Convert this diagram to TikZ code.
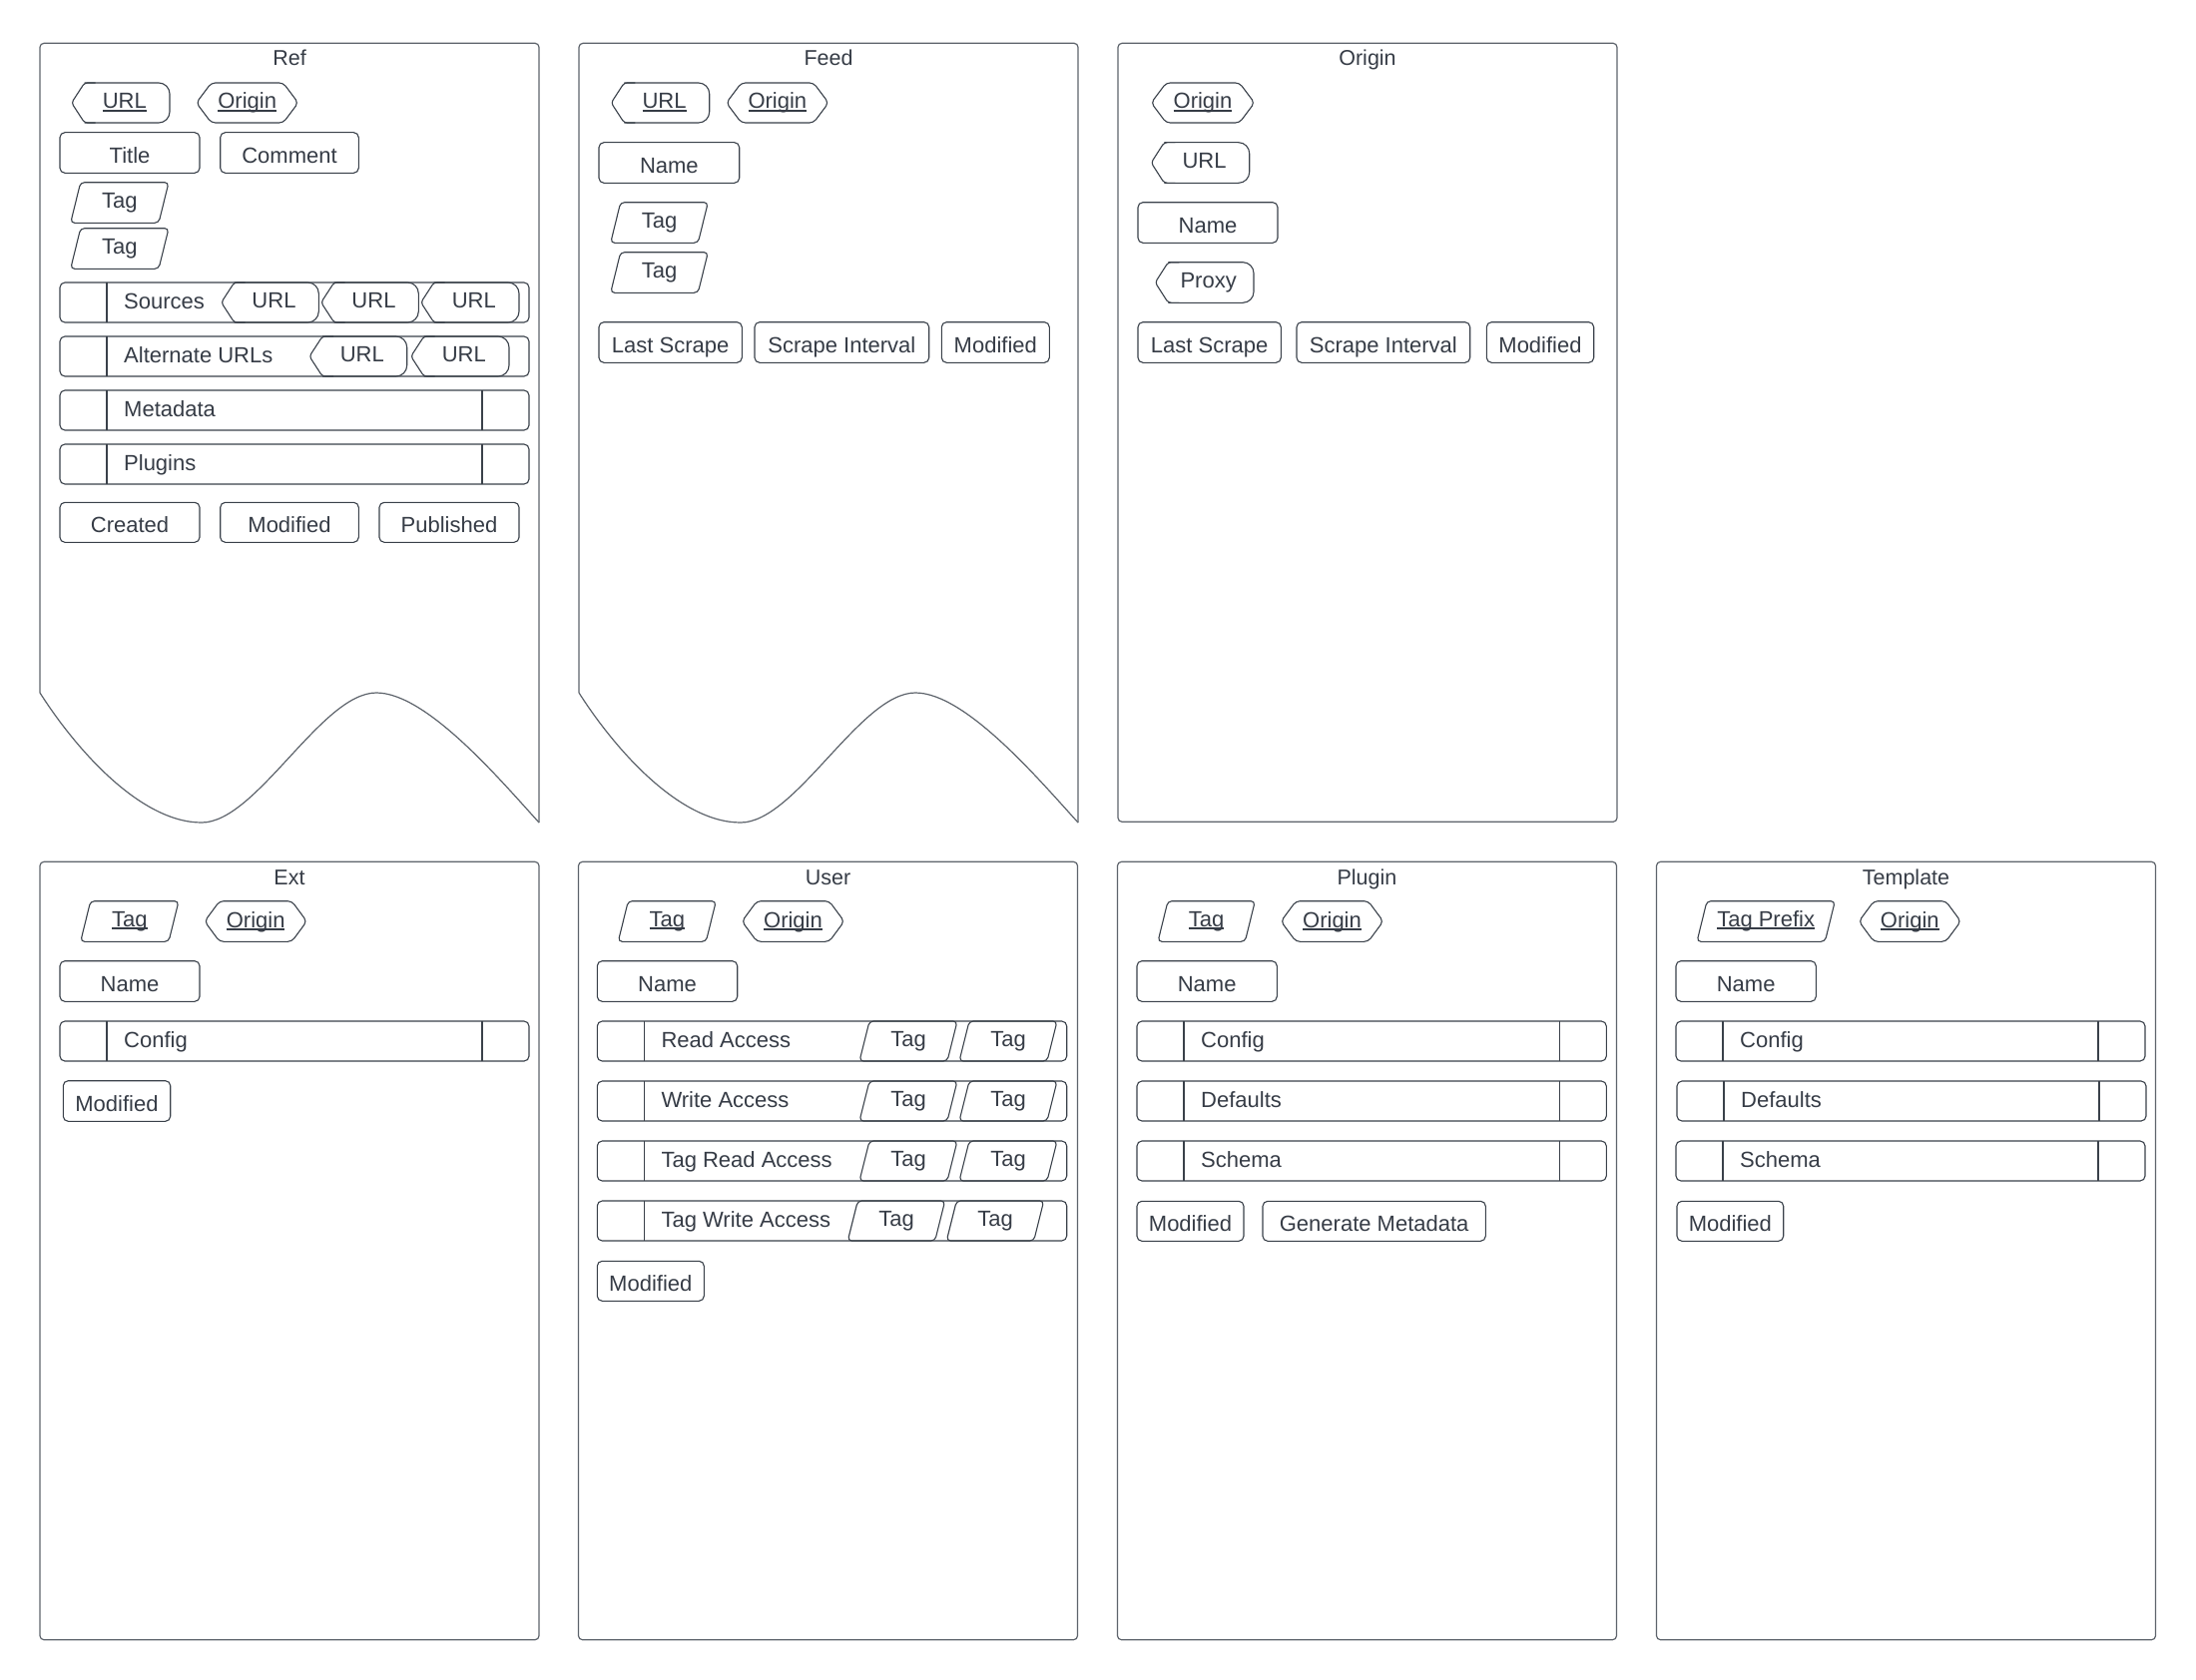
\documentclass[tikz,border=0pt]{standalone}
\usepackage{fontspec}
\setmainfont{Liberation Sans}
\definecolor{lc}{HTML}{3A414A}
\definecolor{pc}{HTML}{5E646C}
\definecolor{tc}{HTML}{363C46}
\newcommand\myfs{\fontsize{22}{26}\selectfont}
\newcommand\myft{\fontsize{21.5}{26}\selectfont}
\newcommand\ulx[1]{\setbox0=\hbox{#1}\rlap{\rule[-2.8pt]{\wd0}{1.6pt}}\box0}
\tikzset{
  shp/.style={draw=lc, line width=1.1pt},
  pnlst/.style={draw=pc, line width=1.2pt},
  txt/.style={inner sep=0pt, anchor=base, text=tc, font=\myfs},
  ttl/.style={txt, font=\myft},
}
% rounded field: name, x1, x2, y1, y2, text
\newcommand\fld[6]{%
  \draw[shp,rounded corners=5] (#2,#4) rectangle (#3,#5);
  \node[txt] (#1) at ({(#2+#3)/2},{(#4+#5)/2+10}) {#6};}
% key shape (left point, rounded right): name, x1, x2, y1, y2, text, dy
\newcommand\keyx[7]{%
  \draw[shp,rounded corners=11] (#2+13,#4) -- (#3,#4) -- (#3,#5) -- (#2+13,#5);
  \draw[shp,rounded corners=3] (#2+24,#4) -- (#2+13,#4) -- (#2,{(#4+#5)/2}) -- (#2+13,#5) -- (#2+24,#5);
  \node[txt] (#1) at ({(#2+#3)/2+4},{(#4+#5)/2+#7}) {#6};}
% hexagon: name, x1, x2, y1, y2, text
\newcommand\hexx[6]{%
  \draw[shp,rounded corners=4] ({(#2+#3)/2},#4) -- (#3-15,#4) -- (#3,{(#4+#5)/2}) -- (#3-15,#5) -- (#2+15,#5) -- (#2,{(#4+#5)/2}) -- (#2+15,#4) -- cycle;
  \node[txt] (#1) at ({(#2+#3)/2},{(#4+#5)/2+6}) {#6};}
% parallelogram: name, x1 (bottom left), x2 (top right), y1, y2, text
\newcommand\tagx[6]{%
  \draw[shp,rounded corners=4] ({(#2+#3)/2},#4) -- (#3,#4) -- (#3-10,#5) -- (#2,#5) -- (#2+10,#4) -- cycle;
  \node[txt] (#1) at ({(#2+#3)/2},{(#4+#5)/2+5}) {#6};}
% row with left divider: name, x1, x2, y1, y2, text
\newcommand\rowx[6]{%
  \draw[shp,rounded corners=5] (#2,#4) rectangle (#3,#5);
  \draw[shp] (#2+47,#4) -- (#2+47,#5);
  \node[txt,anchor=base west] (#1) at (#2+64,{(#4+#5)/2+6}) {#6};}
% right divider: x2, y1, y2
\newcommand\rdiv[3]{\draw[shp] (#1-47,#2) -- (#1-47,#3);}
% plain panel: name, x1, x2, y1, y2, title
\newcommand\pnl[6]{%
  \draw[pnlst,rounded corners=4] (#2,#4) rectangle (#3,#5);
  \node[ttl] (#1) at ({(#2+#3)/2},#4+22.7) {#6};}
% document panel with wavy bottom: x1, title, name
\newcommand\docpnl[3]{%
  \draw[pnlst,rounded corners=4] (#1,694) -- (#1,43.3) -- (#1+500,43.3) -- (#1+500,824);
  \draw[pnlst] (#1,694) .. controls (#1+35,749) and (#1+100,824) .. (#1+162,824)
     .. controls (#1+217,824) and (#1+282,694) .. (#1+337,694)
     .. controls (#1+387,694) and (#1+460,780) .. (#1+500,824);
  \node[ttl] (#3) at (#1+250,66) {#2};}
\begin{document}
\begin{tikzpicture}[x=1pt,y=-1pt]
\fill[white] (0,0) rectangle (2200,1683);
\useasboundingbox (0,0) rectangle (2200,1683);

% ---------------- Ref ----------------
\docpnl{40}{Ref}{refT}
\keyx{refUrl}{71.7}{170}{83}{123}{\ulx{URL}}{6}
\hexx{refOrig}{196.7}{298.7}{83}{123}{\ulx{Origin}}
\fld{refTitle}{60}{200}{132.7}{173.3}{Title}
\fld{refComment}{220.7}{359.3}{132.7}{173.3}{Comment}
\tagx{refTag1}{70.7}{169}{182.7}{223.3}{Tag}
\tagx{refTag2}{70.7}{169}{228.7}{269.3}{Tag}
\rowx{refSrc}{60}{530}{283}{323}{Sources}
\keyx{refSrcU1}{221.7}{319.3}{283}{323}{URL}{5}
\keyx{refSrcU2}{321.7}{419.3}{283}{323}{URL}{5}
\keyx{refSrcU3}{421.7}{520}{283}{323}{URL}{5}
\rowx{refAlt}{60}{530}{337}{377}{Alternate URLs}
\keyx{refAltU1}{310}{407.7}{337}{377}{URL}{5}
\keyx{refAltU2}{411.7}{510}{337}{377}{URL}{5}
\rowx{refMeta}{60}{530}{391}{431}{Metadata}
\rdiv{530}{391}{431}
\rowx{refPlug}{60}{530}{445}{485}{Plugins}
\rdiv{530}{445}{485}
\fld{refCreated}{60}{200}{503.3}{543.3}{Created}
\fld{refMod}{220.7}{359.3}{503.3}{543.3}{Modified}
\fld{refPub}{380}{520}{503.3}{543.3}{Published}

% ---------------- Feed ----------------
\docpnl{580}{Feed}{feedT}
\keyx{feedUrl}{612.3}{710.7}{83}{123}{\ulx{URL}}{6}
\hexx{feedOrig}{727.7}{830}{83}{123}{\ulx{Origin}}
\fld{feedName}{600}{740.7}{142.7}{183.3}{Name}
\tagx{feedTag1}{611.7}{709.3}{202.7}{243.3}{Tag}
\tagx{feedTag2}{611.7}{709.3}{252.7}{293.3}{Tag}
\fld{feedLast}{600}{743.3}{322.7}{363.3}{Last Scrape}
\fld{feedInt}{756}{930.7}{322.7}{363.3}{Scrape Interval}
\fld{feedMod}{943.3}{1051.3}{322.7}{363.3}{Modified}

% ---------------- Origin ----------------
\pnl{origT}{1120}{1620}{43.3}{823.3}{Origin}
\hexx{origOrig}{1153.3}{1256.7}{83}{123}{\ulx{Origin}}
\keyx{origUrl}{1153.3}{1251.7}{142.7}{183.3}{URL}{5}
\fld{origName}{1140}{1280}{202.7}{243.3}{Name}
\keyx{origProxy}{1157.3}{1256}{262.7}{303.3}{Proxy}{5}
\fld{origLast}{1140}{1283.3}{322.7}{363.3}{Last Scrape}
\fld{origInt}{1299}{1472.7}{322.7}{363.3}{Scrape Interval}
\fld{origMod}{1489.3}{1596.7}{322.7}{363.3}{Modified}

% ---------------- Ext ----------------
\pnl{extT}{40}{540}{863.3}{1642.7}{Ext}
\tagx{extTag}{80.7}{179}{902.7}{943.3}{\ulx{Tag}}
\hexx{extOrig}{205}{307.3}{902.7}{943.3}{\ulx{Origin}}
\fld{extName}{60}{200}{962.7}{1003.3}{Name}
\rowx{extConf}{60}{530}{1023}{1063}{Config}
\rdiv{530}{1023}{1063}
\fld{extMod}{63.3}{170.7}{1082.7}{1123.3}{Modified}

% ---------------- User ----------------
\pnl{userT}{579.5}{1079.5}{863.3}{1642.7}{User}
\tagx{userTag}{619.3}{717.3}{902.7}{943.3}{\ulx{Tag}}
\hexx{userOrig}{743.3}{845.7}{902.7}{943.3}{\ulx{Origin}}
\fld{userName}{598.3}{738.7}{962.7}{1003.3}{Name}
\rowx{userRA}{598.3}{1068.7}{1023}{1063}{Read Access}
\tagx{userRA1}{861}{959}{1023}{1063}{Tag}
\tagx{userRA2}{961}{1059}{1023}{1063}{Tag}
\rowx{userWA}{598.3}{1068.7}{1083}{1123}{Write Access}
\tagx{userWA1}{861}{959}{1083}{1123}{Tag}
\tagx{userWA2}{961}{1059}{1083}{1123}{Tag}
\rowx{userTRA}{598.3}{1068.7}{1143}{1183}{Tag Read Access}
\tagx{userTRA1}{861}{959}{1143}{1183}{Tag}
\tagx{userTRA2}{961}{1059}{1143}{1183}{Tag}
\rowx{userTWA}{598.3}{1068.7}{1203}{1243}{Tag Write Access}
\tagx{userTWA1}{849.3}{946.7}{1203}{1243}{Tag}
\tagx{userTWA2}{948.3}{1045.7}{1203}{1243}{Tag}
\fld{userMod}{598.3}{705.3}{1263.3}{1303.3}{Modified}

% ---------------- Plugin ----------------
\pnl{plugT}{1119.5}{1619.5}{863.3}{1642.7}{Plugin}
\tagx{plugTag}{1160}{1257.3}{902.7}{943.3}{\ulx{Tag}}
\hexx{plugOrig}{1283.3}{1385.7}{902.7}{943.3}{\ulx{Origin}}
\fld{plugName}{1139}{1279.3}{962.7}{1003.3}{Name}
\rowx{plugConf}{1139}{1609.3}{1023}{1063}{Config}
\rdiv{1609.3}{1023}{1063}
\rowx{plugDef}{1139}{1609.3}{1083}{1123}{Defaults}
\rdiv{1609.3}{1083}{1123}
\rowx{plugSch}{1139}{1609.3}{1143}{1183}{Schema}
\rdiv{1609.3}{1143}{1183}
\fld{plugMod}{1139}{1246}{1203.3}{1243.3}{Modified}
\fld{plugGen}{1265}{1488.3}{1203.3}{1243.3}{Generate Metadata}

% ---------------- Template ----------------
\pnl{tmplT}{1659.5}{2159.5}{863.3}{1642.7}{Template}
\tagx{tmplTag}{1700}{1838.3}{902.7}{943.3}{\ulx{Tag Prefix}}
\hexx{tmplOrig}{1862.3}{1964.3}{902.7}{943.3}{\ulx{Origin}}
\fld{tmplName}{1679}{1819.3}{962.7}{1003.3}{Name}
\rowx{tmplConf}{1679}{2149}{1023}{1063}{Config}
\rdiv{2149}{1023}{1063}
\rowx{tmplDef}{1680}{2150}{1083}{1123}{Defaults}
\rdiv{2150}{1083}{1123}
\rowx{tmplSch}{1679}{2149}{1143}{1183}{Schema}
\rdiv{2149}{1143}{1183}
\fld{tmplMod}{1680}{1786.7}{1203.3}{1243.3}{Modified}
\end{tikzpicture}
\end{document}
